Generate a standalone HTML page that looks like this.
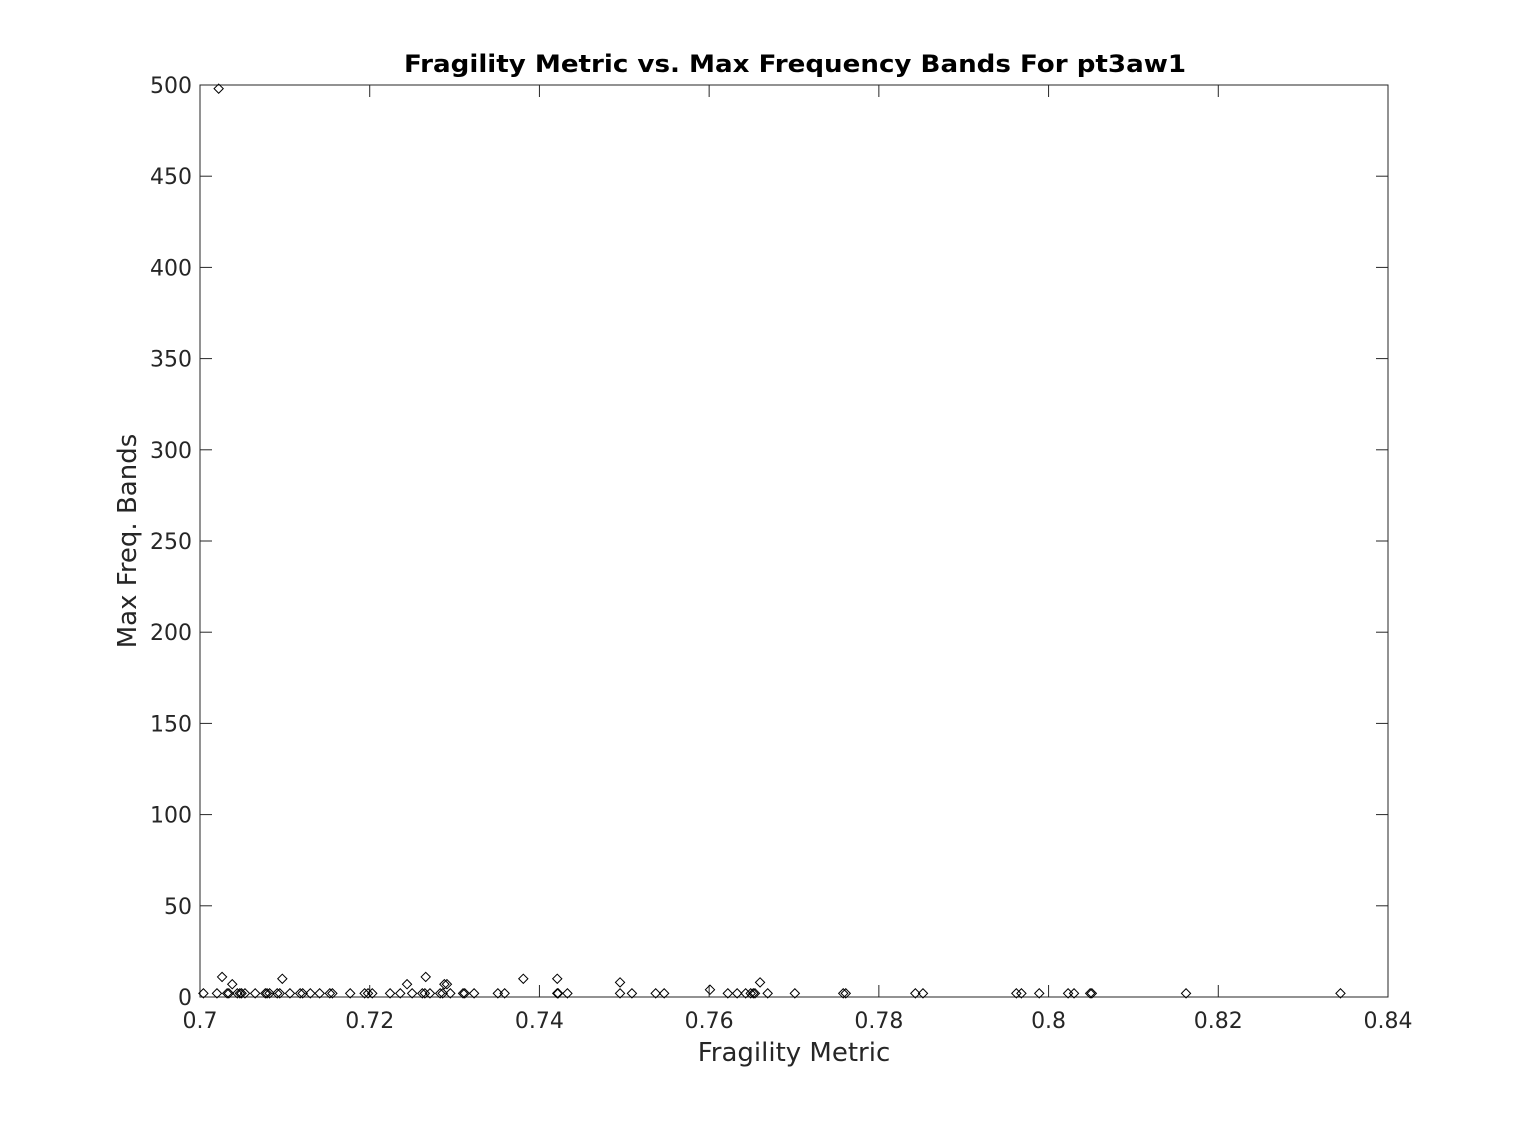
<!DOCTYPE html>
<html><head><meta charset="utf-8"><style>
body{margin:0;background:#fff;}
svg{display:block;font-family:"DejaVu Sans","Liberation Sans",sans-serif;}
</style></head><body>
<svg id="chart" width="1535" height="1121">
<rect width="1535" height="1121" fill="#fff"/>
<g id="axes"></g>
<g id="marks"></g>
<text x="404" y="72" textLength="782" lengthAdjust="spacingAndGlyphs" font-size="24" font-weight="bold" fill="#000">Fragility Metric vs. Max Frequency Bands For pt3aw1</text>
<text x="794" y="1061" text-anchor="middle" font-size="26" fill="#262626">Fragility Metric</text>
<text transform="translate(136,541) rotate(-90)" text-anchor="middle" font-size="26" fill="#262626">Max Freq. Bands</text>
</svg>
<script>
const xTicks=[0.7,0.72,0.74,0.76,0.78,0.8,0.82,0.84];
const xTickLabels=["0.7","0.72","0.74","0.76","0.78","0.8","0.82","0.84"];
const yTicks=[0,50,100,150,200,250,300,350,400,450,500];
const xValues=[0.7004,0.7020,0.7032,0.7034,0.7044,0.7047,0.7049,0.7053,0.7065,0.7077,0.7079,0.7082,0.7091,0.7094,0.7106,0.7118,0.7121,0.7130,0.7141,0.7153,0.7156,0.7177,0.7194,0.7198,0.7203,0.7224,0.7236,0.7250,0.7262,0.7265,0.7271,0.7283,0.7286,0.7295,0.7310,0.7312,0.7323,0.7351,0.7359,0.7421,0.7422,0.7433,0.7495,0.7509,0.7537,0.7547,0.7622,0.7633,0.7643,0.7649,0.7652,0.7654,0.7669,0.7701,0.7758,0.7761,0.7843,0.7852,0.7962,0.7968,0.7989,0.8023,0.8030,0.8049,0.8051,0.8162,0.8344,
0.7022,0.7026,0.7038,0.7097,0.7244,0.7266,0.7288,0.7291,0.7381,0.7421,0.7495,0.7601,0.7660];
const yValues=[2,2,2,2,2,2,2,2,2,2,2,2,2,2,2,2,2,2,2,2,2,2,2,2,2,2,2,2,2,2,2,2,2,2,2,2,2,2,2,2,2,2,2,2,2,2,2,2,2,2,2,2,2,2,2,2,2,2,2,2,2,2,2,2,2,2,2,
498,11,7,10,7,11,7,7,10,10,8,4,8];
const L=200,R=1388,T=85,B=997;
const xs=v=>L+(v-0.7)/(0.84-0.7)*(R-L);
const ys=v=>B-(v/500)*(B-T);
const NS="http://www.w3.org/2000/svg";
const ax=document.getElementById('axes'),mk=document.getElementById('marks');
function el(t,a,p){const e=document.createElementNS(NS,t);for(const k in a)e.setAttribute(k,a[k]);p.appendChild(e);return e;}
const box=el('rect',{x:L,y:T,width:R-L,height:B-T,fill:'none',stroke:'#262626','stroke-width':1},ax);


xTicks.forEach((v,i)=>{const x=xs(v);
el('line',{x1:x,x2:x,y1:B,y2:B-12,stroke:'#262626'},ax);
el('line',{x1:x,x2:x,y1:T,y2:T+12,stroke:'#262626'},ax);
const t=el('text',{x:x,y:B+31,'text-anchor':'middle','font-size':22,fill:'#262626'},ax);t.textContent=xTickLabels[i];

});
yTicks.forEach(v=>{const y=ys(v);
el('line',{x1:L,x2:L+12,y1:y,y2:y,stroke:'#262626'},ax);
el('line',{x1:R,x2:R-12,y1:y,y2:y,stroke:'#262626'},ax);
const t=el('text',{x:L-8,y:y+8,'text-anchor':'end','font-size':22,fill:'#262626'},ax);t.textContent=v;

});
xValues.forEach((v,i)=>{const x=xs(v),y=ys(yValues[i]);const s=4.6;
const p=el('path',{d:`M${x-s},${y} L${x},${y-s} L${x+s},${y} L${x},${y+s} Z`,fill:'none',stroke:'#000','stroke-width':1},mk);

});
</script>
</body></html>
